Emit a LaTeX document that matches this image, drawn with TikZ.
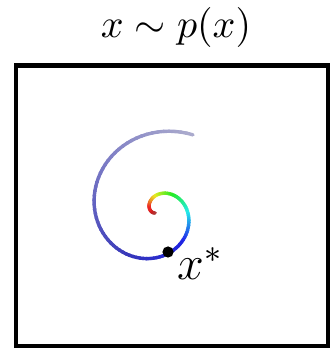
\documentclass[tikz,border=0pt]{standalone}
\usepackage{amsmath}
\usetikzlibrary{positioning}
\definecolor{deepblue}{RGB}{30,35,225}
\definecolor{midblue}{RGB}{55,55,185}
\definecolor{fadeend}{RGB}{172,172,205}
\begin{document}
\begin{tikzpicture}[x=0.25pt,y=-0.25pt,
 declare function={sr(\a)=2+0.12*\a+0.00009*\a*\a;},
 frame/.style={draw=black,line width=1.05pt},
 trail/.style={line width=0.85pt,line cap=round},
 sample/.style={circle,fill=black,inner sep=0pt,minimum size=2.8pt}]
\useasboundingbox (0,0) rectangle (333,348);
\node (title) at (176,28) {$x \sim p(x)$};
\draw[frame] (16,65.5) rectangle (328,346);
% spiral, coloured piece by piece
\foreach \t in {0,4,...,496}{
  \pgfmathtruncatemacro\tn{\t+5}
  \ifnum\t<255
    \pgfmathsetmacro\h{min(240,max(0,(\t-62)*1.25))}
    \pgfmathsetmacro\bb{\t<45 ? 0.55+0.008*\t : 0.92}
    \pgfmathtruncatemacro\m{min(100,70+\t)}
    \definecolor{segc}{Hsb}{\h,0.85,\bb}
    \colorlet{segc}{segc!\m!white}
  \else\ifnum\t<330
    \pgfmathtruncatemacro\p{(\t-255)/0.75}
    \colorlet{segc}{midblue!\p!deepblue}
  \else
    \pgfmathtruncatemacro\p{100-(\t-330)/1.7}
    \colorlet{segc}{midblue!\p!fadeend}
  \fi\fi
  \draw[trail,segc] plot[domain=\t:\tn,samples=4,variable=\u]
    ({157+sr(\u)*cos(206-\u)},{212-sr(\u)*sin(206-\u)});
}
\node[sample] (xstar) at (168,252) {};
\node[anchor=base west,inner sep=0pt,font=\large] (xlabel) at ([shift={(9,28)}]xstar.center) {$x^*$};
\end{tikzpicture}
\end{document}
